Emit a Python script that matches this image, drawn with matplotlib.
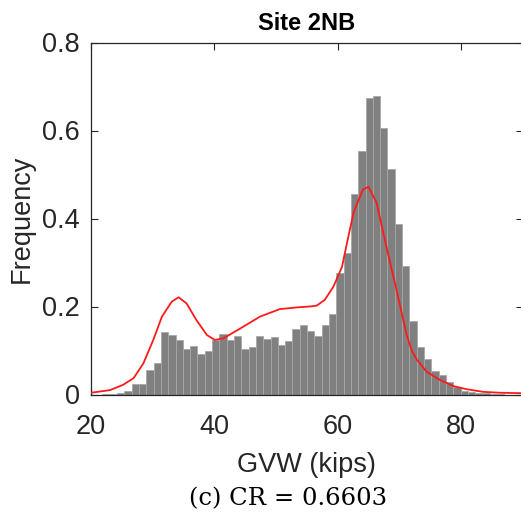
import matplotlib
matplotlib.use("Agg")
import matplotlib.pyplot as plt
import numpy as np

# Histogram data (GVW in kips)
bin_start = 21.86
bin_width = 1.185
freq = [0.001, 0.002, 0.004, 0.008, 0.025, 0.024, 0.056, 0.072, 0.141, 0.135,
        0.123, 0.103, 0.110, 0.093, 0.099, 0.124, 0.137, 0.123, 0.132, 0.103,
        0.109, 0.133, 0.127, 0.131, 0.112, 0.121, 0.150, 0.157, 0.145, 0.134,
        0.158, 0.183, 0.277, 0.322, 0.455, 0.554, 0.673, 0.678, 0.606, 0.512,
        0.387, 0.292, 0.168, 0.107, 0.081, 0.054, 0.044, 0.029, 0.016, 0.009,
        0.006, 0.004, 0.003, 0.002, 0.001]

# Fitted curve
curve_x = [20.0, 23.1, 25.2, 26.9, 28.5, 30.1, 31.5, 33.1, 34.2, 35.5, 37.1, 38.8,
           40.1, 41.5, 44.2, 47.4, 50.6, 53.4, 55.5, 56.6, 57.9, 59.3, 60.7, 61.5,
           62.6, 64.1, 65.0, 66.3, 67.9, 69.5, 70.3, 71.2, 72.0, 72.8, 74.4, 76.6,
           78.8, 80.9, 83.6, 86.3, 89.6]
curve_y = [0.004, 0.010, 0.022, 0.037, 0.071, 0.124, 0.177, 0.211, 0.221, 0.207,
           0.169, 0.135, 0.124, 0.128, 0.150, 0.177, 0.194, 0.198, 0.200, 0.202,
           0.215, 0.245, 0.290, 0.344, 0.415, 0.466, 0.472, 0.436, 0.336, 0.240,
           0.190, 0.135, 0.100, 0.080, 0.052, 0.033, 0.019, 0.012, 0.006, 0.004,
           0.003]

x_ticks = [20, 40, 60, 80]
y_ticks = [0, 0.2, 0.4, 0.6, 0.8]
y_tick_labels = ["0", "0.2", "0.4", "0.6", "0.8"]

plt.rcParams['font.family'] = ['Liberation Sans', 'DejaVu Sans']

fig = plt.figure(figsize=(5.21, 5.18), dpi=100)
ax = fig.add_axes([91/521, (518-394.5)/518, 431.7/521, 352/518])

left_edges = bin_start + bin_width*np.arange(len(freq))
ax.bar(left_edges, freq, width=bin_width, align='edge', color='#808080',
       edgecolor='#a8a8a8', linewidth=0.6, zorder=2)
ax.plot(curve_x, curve_y, color='#ff1a1a', linewidth=1.3, zorder=3)

ax.set_xlim(20, 90)
ax.set_ylim(0, 0.8)
ax.set_xticks(x_ticks)
ax.set_yticks(y_ticks)
ax.set_yticklabels(y_tick_labels)
tc = '#262626'
ax.tick_params(direction='in', length=5, width=0.8, colors=tc, labelsize=19.5,
               top=True, right=True, pad=8)
ax.tick_params(axis='x', pad=14)
for s in ax.spines.values():
    s.set_color(tc)
    s.set_linewidth(0.9)

ax.set_title('Site 2NB', fontsize=17, fontweight='bold', color='black', pad=9)
ax.set_xlabel('GVW (kips)', fontsize=19.5, color=tc, labelpad=9)
ax.set_ylabel('Frequency', fontsize=19.5, color=tc, labelpad=5)

fig.text(288/521, 1 - 499/518, '(c) CR = 0.6603', fontsize=17.5,
         family=['DejaVu Serif'], ha='center', va='center', color='black')

fig.savefig('out.png', dpi=100)
